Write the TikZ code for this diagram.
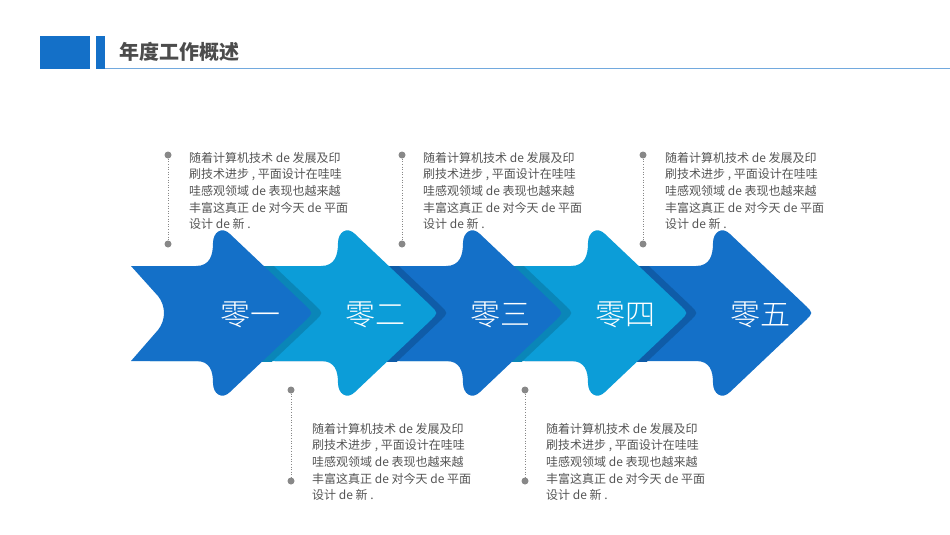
\documentclass[tikz,border=0pt]{standalone}
\usepackage{fontspec}
\setmainfont{Noto Sans CJK SC}
\newfontfamily\cjkl{Noto Sans CJK SC Light}
\definecolor{dkb}{HTML}{1470C8}
\definecolor{ltb}{HTML}{0C9DD8}
\definecolor{shl}{HTML}{0A86B8}
\definecolor{shd}{HTML}{0F5CA8}
\definecolor{txt}{HTML}{555555}
\definecolor{dotc}{HTML}{888888}
\tikzset{
 blk/.style={anchor=north west,align=left,text=txt,font=\fontsize{12}{16.6}\selectfont,inner sep=0pt},
 lab/.style={text=white,font=\fontsize{30}{30}\selectfont\cjkl},
 dotm/.style={circle,fill=dotc,inner sep=0pt,minimum size=7pt},
 vline/.style={dotc,dotted,line width=0.6pt}
}
\newcommand{\arrowpath}{(131,266) -- (196,266) .. controls (210,266) and (213,255) .. (213,243) .. controls (213,232) and (222,226) .. (230,234) -- (306,306) .. controls (313,313) .. (306,320) -- (230,392) .. controls (222,400) and (213,394) .. (213,383) .. controls (213,371) and (210,361) .. (196,361) -- (131,361) -- (158,330) .. controls (166,320) and (166,306) .. (158,296) -- cycle}
\begin{document}
\begin{tikzpicture}[x=1pt,y=-1pt]
\useasboundingbox (0,0) rectangle (950,535);
\fill[white] (0,0) rectangle (950,535);
% header
\fill[dkb] (40,36) rectangle (90,69);
\fill[dkb] (96,36) rectangle (105,69);
\draw[color=dkb!60,line width=1pt] (105,69) -- (950,69);
\node[anchor=west,text=txt!90!black,font=\fontsize{20}{20}\selectfont\bfseries] (title) at (116,52) {年度工作概述};
% arrows, drawn from 5 to 1
\foreach \k/\c/\s in {5/dkb/shd,4/ltb/shd,3/dkb/shl,2/ltb/shd,1/dkb/shl}{
  \begin{scope}[xshift={(\k-1)*125}]
   \ifnum\k<5
    \begin{scope}
     \clip (150,266) rectangle (340,361);
     \fill[\s,xshift=10] \arrowpath;
    \end{scope}
   \fi
   \fill[\c] \arrowpath;
  \end{scope}
}
\node[lab] (a1) at (250,315) {零一};
\node[lab] (a2) at (375,315) {零二};
\node[lab] (a3) at (500,315) {零三};
\node[lab] (a4) at (625,315) {零四};
\node[lab] (a5) at (760,315) {零五};
% text blocks
\newcommand{\blocktext}{随着计算机技术 de 发展及印\\刷技术进步 , 平面设计在哇哇\\哇感观领域 de 表现也越来越\\丰富这真正 de 对今天 de 平面\\设计 de 新 .}
\foreach \n/\lx/\tx/\ya/\yb/\ty in {t1/168/189/155/244/152, t2/402/423/155/244/152, t3/643/665/155/244/152, b1/291/312/390/481/423, b2/525/546/390/481/423}{
  \node[dotm] (\n u) at (\lx,\ya) {};
  \node[dotm] (\n d) at (\lx,\yb) {};
  \draw[vline] (\n u) -- (\n d);
  \node[blk] (\n x) at (\tx,\ty) {\blocktext};
}
\end{tikzpicture}
\end{document}
